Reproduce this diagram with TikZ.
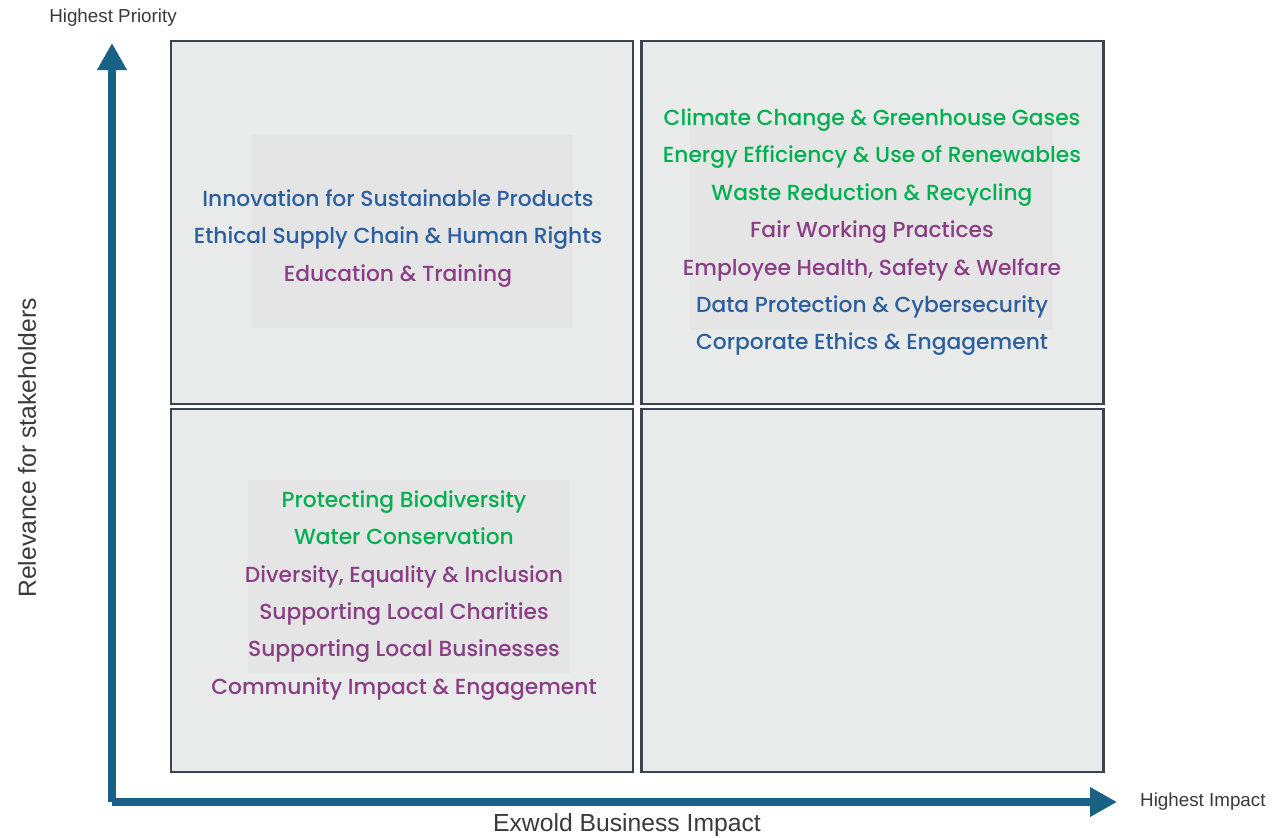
\documentclass[tikz,border=0pt]{standalone}
\usepackage{fontspec}
\setmainfont{Poppins Medium}
\newfontfamily\axisfont{Liberation Sans}
\usetikzlibrary{arrows.meta}
\definecolor{boxfill}{HTML}{E9EAEA}
\definecolor{innerfill}{HTML}{E5E5E5}
\definecolor{boxline}{HTML}{3B4350}
\definecolor{axisblue}{HTML}{196285}
\definecolor{itgreen}{HTML}{00B050}
\definecolor{itblue}{HTML}{2B5F9E}
\definecolor{itpurple}{HTML}{8A3E86}
\definecolor{axistext}{HTML}{3A3A3A}
\tikzset{
  quad/.style={draw=boxline, fill=boxfill, line width=2.5pt, minimum width=462pt, minimum height=363pt, inner sep=0pt, outer sep=0pt},
  item/.style={anchor=base, inner sep=0pt, font=\fontsize{21.8}{25}\selectfont},
  gr/.style={item, text=itgreen},
  bl/.style={item, text=itblue},
  pu/.style={item, text=itpurple},
  axislabel/.style={text=axistext, inner sep=0pt, font=\axisfont\fontsize{18.8}{22}\selectfont},
  biglabel/.style={axislabel, font=\axisfont\fontsize{24.7}{29}\selectfont},
  axisline/.style={draw=axisblue, line width=8pt, -{Triangle[length=27pt,width=28pt]}}
}
\begin{document}
\begin{tikzpicture}[x=1pt,y=-1pt]
\useasboundingbox (0,0) rectangle (1288,838);
\fill[white] (0,0) rectangle (1288,838);

% quadrants
\node[quad] (tl) at (402,222.5) {};
\node[quad] (tr) at (872.5,222.5) {};
\node[quad] (bll) at (402,590.5) {};
\node[quad] (br) at (872.5,590.5) {};

% inner panels
\fill[innerfill] (252,135) rectangle (573,328);
\fill[innerfill] (690,122) rectangle (1053,330);
\fill[innerfill] (248,480) rectangle (570,673);

% top-left items
\node[bl] (tl1) at (398,206) {Innovation for Sustainable Products};
\node[bl] (tl2) at (398,243.5) {Ethical Supply Chain \& Human Rights};
\node[pu] (tl3) at (398,281) {Education \& Training};

% top-right items
\node[gr] (tr1) at (872,125) {Climate Change \& Greenhouse Gases};
\node[gr] (tr2) at (872,162.5) {Energy Efficiency \& Use of Renewables};
\node[gr] (tr3) at (872,200) {Waste Reduction \& Recycling};
\node[pu] (tr4) at (872,237) {Fair Working Practices};
\node[pu] (tr5) at (872,275) {Employee Health, Safety \& Welfare};
\node[bl] (tr6) at (872,312) {Data Protection \& Cybersecurity};
\node[bl] (tr7) at (872,349) {Corporate Ethics \& Engagement};

% bottom-left items
\node[gr] (bl1) at (404,507) {Protecting Biodiversity};
\node[gr] (bl2) at (404,544.5) {Water Conservation};
\node[pu] (bl3) at (404,582) {Diversity, Equality \& Inclusion};
\node[pu] (bl4) at (404,619) {Supporting Local Charities};
\node[pu] (bl5) at (404,656) {Supporting Local Businesses};
\node[pu] (bl6) at (404,694) {Community Impact \& Engagement};

% axes
\coordinate (origin) at (112,802);
\coordinate (ytip) at (112,43);
\coordinate (xtip) at (1117,802);
\draw[axisline] (origin) -- (ytip);
\draw[axisline] (origin) -- (xtip);

% axis labels
\node[axislabel] (hp) at (113,18) {Highest Priority};
\node[axislabel, anchor=west] (hi) at (1140,802) {Highest Impact};
\node[biglabel, rotate=90] (rel) at (27,448) {Relevance for stakeholders};
\node[biglabel] (ebi) at (627,825) {Exwold Business Impact};
\end{tikzpicture}
\end{document}
